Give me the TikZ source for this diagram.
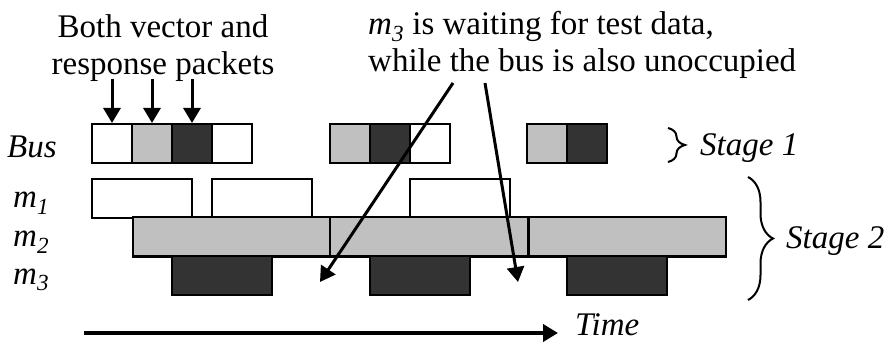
\documentclass[tikz,border=0pt]{standalone}
\usepackage{fontspec}
\setmainfont{Liberation Serif}
\usetikzlibrary{arrows.meta,decorations.pathreplacing}
\definecolor{lightgrey}{RGB}{192,192,192}
\definecolor{darkgrey}{RGB}{51,51,51}
\newcommand{\msub}[1]{\textit{m}\textsubscript{\textit{#1}}}

\begin{document}
\begin{tikzpicture}[x=1pt,y=-1pt,font=\fontsize{33}{37}\selectfont]

		\useasboundingbox (0,0) rectangle (888,347);

		\tikzset{line/.style={draw,line width=2pt}}
		\tikzset{arrow/.style={line,line width=3pt,-{Triangle[length=15pt,width=17pt]}}}
		\tikzset{slot/.style={line,shape=rectangle,inner sep=0pt,minimum width=40pt,minimum height=39pt}}
		\tikzset{block/.style={slot,minimum width=100pt}}
		\tikzset{long/.style={slot,minimum width=197.5pt,fill=lightgrey}}
		\tikzset{label/.style={inner sep=0pt,anchor=base west}}
		\tikzset{bracket/.style={line,decorate,decoration={brace,amplitude=#1}}}

		% row labels
		\node[label] (bus) at (7,158) {\textit{Bus}};
		\node[label] (m1) at (13,208) {\msub{1}};
		\node[label] (m2) at (13,247) {\msub{2}};
		\node[label] (m3) at (13,284) {\msub{3}};

		% bus packets
		\node[slot, fill=white] (b1) at (112,143.5) {};
		\node[slot, fill=lightgrey] (b2) at (152,143.5) {};
		\node[slot, fill=darkgrey] (b3) at (192,143.5) {};
		\node[slot, fill=white] (b4) at (232,143.5) {};
		\node[slot, fill=lightgrey] (b5) at (349.5,143.5) {};
		\node[slot, fill=darkgrey] (b6) at (389.5,143.5) {};
		\node[slot, fill=white] (b7) at (429.5,143.5) {};
		\node[slot, fill=lightgrey] (b8) at (547,143.5) {};
		\node[slot, fill=darkgrey] (b9) at (587,143.5) {};

		% cores
		\node[block, fill=white] (c11) at (142,198.5) {};
		\node[block, fill=white] (c12) at (262,198.5) {};
		\node[block, fill=white] (c13) at (459.5,198.5) {};

		\node[long] (c21) at (231.5,237) {};
		\node[long] (c22) at (429,237) {};
		\node[long] (c23) at (627.5,237) {};

		\node[block, fill=darkgrey] (c31) at (222,275.5) {};
		\node[block, fill=darkgrey] (c32) at (419.5,275.5) {};
		\node[block, fill=darkgrey] (c33) at (617,275.5) {};

		% notes
		\node[inner sep=0pt, align=center, anchor=base] (both) at (163,75) {Both vector and\\response packets};
		\node[inner sep=0pt, align=left, anchor=base west] (wait) at (368,72) {\msub{3} is waiting for test data,\\while the bus is also unoccupied};

		\coordinate (p1) at (112,79);
		\coordinate (p2) at (152,79);
		\coordinate (p3) at (192,79);
		\path[arrow] (p1) to (b1.north);
		\path[arrow] (p2) to (b2.north);
		\path[arrow] (p3) to (b3.north);

		\coordinate (w1) at (453,83);
		\coordinate (w2) at (485,83);
		\coordinate (g1) at (320,282);
		\coordinate (g2) at (518,282);
		\path[arrow] (w1) to (g1);
		\path[arrow] (w2) to (g2);

		% stages
		\coordinate (s1a) at (668,128);
		\coordinate (s1b) at (668,162);
		\coordinate (s2a) at (748,177);
		\coordinate (s2b) at (748,300);
		\path[bracket=17pt] (s1a) to (s1b);
		\path[bracket=25pt] (s2a) to (s2b);
		\node[label] (st1) at (700,156) {\textit{Stage 1}};
		\node[label] (st2) at (786,248) {\textit{Stage 2}};

		% time axis
		\coordinate (t0) at (84,333);
		\node[label] (time) at (575,335) {\textit{Time}};
		\path[arrow, line width=4pt] (t0) to ([xshift=-17pt]time.west |- t0);

	\end{tikzpicture}
\end{document}
